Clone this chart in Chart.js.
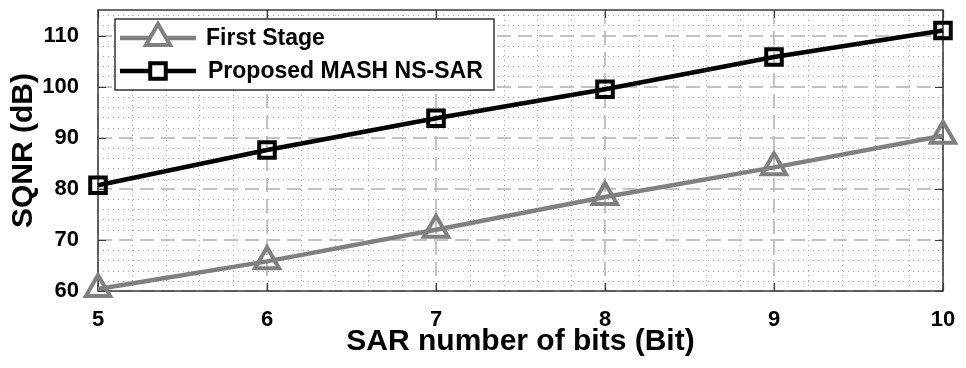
<!DOCTYPE html>
<html>
<head>
<meta charset="utf-8">
<script src="https://cdn.jsdelivr.net/npm/chart.js@4.4.1/dist/chart.umd.min.js"></script>
<style>
  html, body { margin: 0; padding: 0; background: #fff; }
  #wrap { width: 966px; height: 368px; }
</style>
</head>
<body>
<div id="wrap"><canvas id="sqnrChart" width="966" height="368"></canvas></div>
<script>
var bits = [5, 6, 7, 8, 9, 10];
var firstStage = [60.4, 65.8, 72.0, 78.4, 84.2, 90.4];
var mashNsSar = [80.7, 87.6, 93.8, 99.5, 105.8, 111.0];
var yTicks = [60, 70, 80, 90, 100, 110];

var FONT = "'Liberation Sans', Arial, sans-serif";
var GRAY = "#808080";

// dashed major grid + dotted minor grid, plus the box with inward ticks
var gridBox = {
  id: "gridBox",
  beforeDatasetsDraw: function(chart) {
    var ctx = chart.ctx, a = chart.chartArea;
    var xs = chart.scales.x, ys = chart.scales.y;
    ctx.save();
    ctx.lineWidth = 1;

    // minor
    ctx.strokeStyle = "#a6a6a6";
    ctx.setLineDash([1, 4]);
    for (var v = 60; v <= 115; v += 2) {
      if (v % 10 === 0) continue;
      var py = Math.round(ys.getPixelForValue(v)) + 0.5;
      ctx.beginPath(); ctx.moveTo(a.left, py); ctx.lineTo(a.right, py); ctx.stroke();
    }
    for (var i = 0; i <= 25; i++) {
      if (i % 5 === 0) continue;
      var px = Math.round(xs.getPixelForValue(5 + i * 0.2)) + 0.5;
      ctx.beginPath(); ctx.moveTo(px, a.top); ctx.lineTo(px, a.bottom); ctx.stroke();
    }

    // major
    ctx.strokeStyle = "#b0b0b0";
    ctx.lineWidth = 1.5;
    ctx.setLineDash([14, 7]);
    yTicks.forEach(function(t) {
      var py = Math.round(ys.getPixelForValue(t));
      ctx.beginPath(); ctx.moveTo(a.left, py); ctx.lineTo(a.right, py); ctx.stroke();
    });
    bits.forEach(function(b) {
      var px = Math.round(xs.getPixelForValue(b));
      ctx.beginPath(); ctx.moveTo(px, a.top); ctx.lineTo(px, a.bottom); ctx.stroke();
    });

    // frame
    ctx.setLineDash([]);
    ctx.strokeStyle = "#3a3a3a";
    ctx.lineWidth = 1.5;
    ctx.strokeRect(a.left, a.top, a.right - a.left, a.bottom - a.top);

    ctx.lineWidth = 1.2;
    var tl = 8;
    yTicks.forEach(function(t) {
      var py = Math.round(ys.getPixelForValue(t)) + 0.5;
      ctx.beginPath();
      ctx.moveTo(a.left, py); ctx.lineTo(a.left + tl, py);
      ctx.moveTo(a.right, py); ctx.lineTo(a.right - tl, py);
      ctx.stroke();
    });
    bits.forEach(function(b) {
      var px = Math.round(xs.getPixelForValue(b)) + 0.5;
      ctx.beginPath();
      ctx.moveTo(px, a.bottom); ctx.lineTo(px, a.bottom - tl);
      ctx.moveTo(px, a.top); ctx.lineTo(px, a.top + tl);
      ctx.stroke();
    });
    ctx.restore();
  }
};

// boxed legend in the upper-left corner of the plot
var boxLegend = {
  id: "boxLegend",
  afterDatasetsDraw: function(chart) {
    var ctx = chart.ctx;
    var x0 = 115, y0 = 19, w = 379, h = 71;
    ctx.save();
    ctx.fillStyle = "#fff";
    ctx.fillRect(x0, y0, w, h);
    ctx.strokeStyle = "#333";
    ctx.lineWidth = 1.5;
    ctx.strokeRect(x0, y0, w, h);

    var rows = [38, 71];
    var textX = [206, 208];
    chart.data.datasets.forEach(function(ds, i) {
      var y = rows[i];
      ctx.strokeStyle = ds.borderColor;
      ctx.lineWidth = ds.borderWidth;
      ctx.beginPath(); ctx.moveTo(120, y); ctx.lineTo(196, y); ctx.stroke();
      ctx.lineWidth = ds.pointBorderWidth;
      ctx.fillStyle = "#fff";
      Chart.helpers.drawPoint(ctx, {
        pointStyle: ds.pointStyle, radius: ds.pointRadius, rotation: 0, borderWidth: ds.pointBorderWidth
      }, 158, y);
      ctx.fillStyle = "#000";
      ctx.font = "bold 23px " + FONT;
      ctx.textBaseline = "middle";
      ctx.textAlign = "left";
      ctx.fillText(ds.label, textX[i], y + 1);
    });
    ctx.restore();
  }
};

function pts(ys) {
  return bits.map(function(b, i) { return { x: b, y: ys[i] }; });
}

new Chart(document.getElementById("sqnrChart"), {
  type: "line",
  data: {
    datasets: [{
      label: "First Stage",
      data: pts(firstStage),
      borderColor: GRAY,
      borderWidth: 4.5,
      pointStyle: "triangle",
      pointRadius: 14,
      pointBorderWidth: 4,
      pointBorderColor: GRAY,
      pointBackgroundColor: "rgba(0,0,0,0)",
      clip: false
    }, {
      label: "Proposed MASH NS-SAR",
      data: pts(mashNsSar),
      borderColor: "#000",
      borderWidth: 4.5,
      pointStyle: "rect",
      pointRadius: 11,
      pointBorderWidth: 4,
      pointBorderColor: "#000",
      pointBackgroundColor: "rgba(0,0,0,0)",
      clip: false
    }]
  },
  options: {
    responsive: false,
    animation: false,
    events: [],
    layout: { autoPadding: false, padding: { left: 0, top: 10, right: 23, bottom: 0 } },
    plugins: { legend: { display: false }, tooltip: { enabled: false } },
    scales: {
      x: {
        type: "linear",
        min: 5,
        max: 10,
        afterFit: function(s) {
          s.height = 77;
          s.paddingLeft = 0;
          s.paddingRight = 0;
        },
        grid: { display: false },
        border: { display: false },
        ticks: {
          stepSize: 1,
          padding: 8,
          color: "#000",
          font: { family: FONT, size: 22, weight: "bold" }
        },
        title: {
          display: true,
          text: "SAR number of bits (Bit)",
          color: "#000",
          font: { family: FONT, size: 30, weight: "bold" },
          padding: { top: 8, bottom: 8 }
        }
      },
      y: {
        min: 60,
        max: 115,
        afterFit: function(s) {
          s.width = 98;
          s.paddingTop = 0;
          s.paddingBottom = 0;
        },
        afterBuildTicks: function(s) { s.ticks = yTicks.map(function(v) { return { value: v }; }); },
        grid: { display: false },
        border: { display: false },
        ticks: {
          padding: 11,
          color: "#000",
          font: { family: FONT, size: 22, weight: "bold" }
        },
        title: {
          display: true,
          text: "SQNR (dB)",
          color: "#000",
          font: { family: FONT, size: 30, weight: "bold" },
          padding: { top: 6, bottom: 6 }
        }
      }
    }
  },
  plugins: [gridBox, boxLegend]
});
</script>
</body>
</html>
